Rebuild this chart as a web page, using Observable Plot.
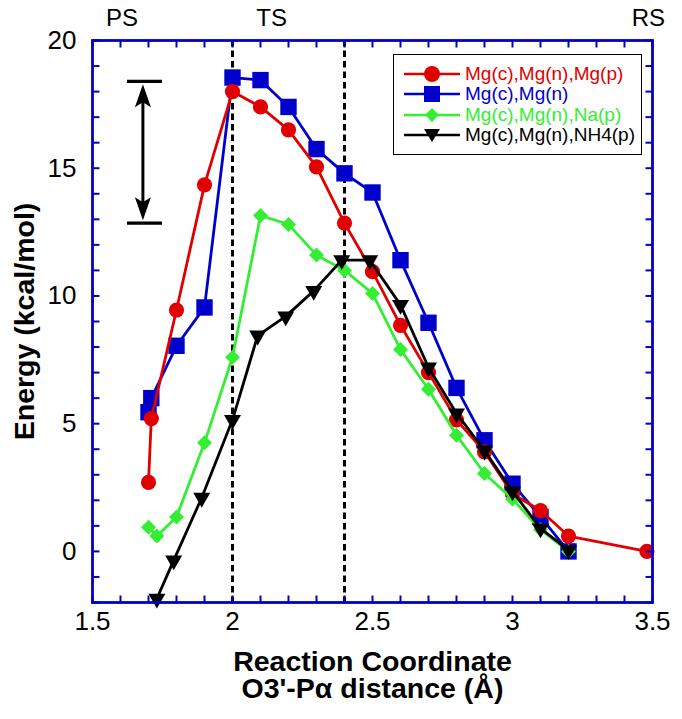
<!DOCTYPE html>
<html>
<head>
<meta charset="utf-8">
<script src="https://cdn.jsdelivr.net/npm/d3@7"></script>
<script src="https://cdn.jsdelivr.net/npm/@observablehq/plot@0.6"></script>
<style>
  body { margin: 0; background: #fff; }
  #wrap { position: relative; width: 682px; height: 719px; font-family: "Liberation Sans", Arial, sans-serif; }
  #legend { position: absolute; left: 393px; top: 54px; width: 249px; height: 101px; box-sizing: border-box;
            border: 1.5px solid #000; background: #fff; padding-top: 9px; }
  .row { display: flex; align-items: center; height: 20.3px; }
  .row svg { margin-left: 10px; margin-right: 5px; }
  .row span { font-size: 19px; line-height: 20px; white-space: nowrap; }
  .sub { font-size: 13px; }
</style>
</head>
<body>
<div id="wrap"></div>
<script>
// ---- data ----
const seriesNames = ["Mg(c),Mg(n),Mg(p)", "Mg(c),Mg(n)", "Mg(c),Mg(n),Na(p)", "Mg(c),Mg(n),NH4(p)"];
const seriesColors = ["#e00000", "#0000cc", "#33ee33", "#000000"];

const redX = [1.70, 1.71, 1.80, 1.90, 2.00, 2.10, 2.20, 2.30, 2.40, 2.50, 2.60, 2.70, 2.80, 2.90, 3.00, 3.10, 3.20, 3.48];
const redY = [2.7, 5.2, 9.45, 14.35, 18.0, 17.4, 16.5, 15.05, 12.85, 10.95, 8.85, 7.0, 5.15, 3.9, 2.25, 1.6, 0.6, 0.0];

const blueX = [1.70, 1.71, 1.80, 1.90, 2.00, 2.10, 2.20, 2.30, 2.40, 2.50, 2.60, 2.70, 2.80, 2.90, 3.00, 3.10, 3.20];
const blueY = [5.45, 6.0, 8.05, 9.55, 18.55, 18.45, 17.4, 15.75, 14.8, 14.05, 11.4, 8.95, 6.4, 4.35, 2.65, 1.35, 0.0];

const greenX = [1.70, 1.73, 1.80, 1.90, 2.00, 2.10, 2.20, 2.30, 2.40, 2.50, 2.60, 2.70, 2.80, 2.90, 3.00, 3.10, 3.20];
const greenY = [0.95, 0.6, 1.35, 4.25, 7.6, 13.15, 12.8, 11.6, 11.0, 10.1, 7.9, 6.35, 4.55, 3.05, 2.05, 0.85, 0.0];

const blackX = [1.73, 1.79, 1.89, 2.00, 2.09, 2.19, 2.29, 2.39, 2.49, 2.60, 2.70, 2.80, 2.90, 3.00, 3.10, 3.20];
const blackY = [-1.85, -0.35, 2.1, 5.15, 8.45, 9.2, 10.2, 11.4, 11.4, 9.65, 7.2, 5.4, 3.95, 2.35, 0.9, 0.05];

const xDomain = [1.5, 3.5];
const yDomain = [-2, 20];
const xTickLabels = [1.5, 2, 2.5, 3, 3.5];
const yTickLabels = [0, 5, 10, 15, 20];
const xMinorTicks = d3.range(15, 36).map(d => d / 10);
const yMinorTicks = d3.range(-2, 21);

const dashedX = [2.0, 2.4];             // transition-state guides
const stateLabels = ["PS", "TS", "RS"];
const stateX = [1.605, 2.14, 3.485];

const barrierX = [1.625, 1.75];         // cap extent of the barrier bracket
const barrierArrowX = 1.68;
const barrierY = [12.85, 18.4];         // lower / upper energy of the bracket

const xTitle = "Reaction Coordinate\nO3'-P\u03B1 distance (\u00C5)";
const yTitle = "Energy (kcal/mol)";

// ---- symbols ----
function symOf(fn) { return { draw(ctx, size) { fn(ctx, Math.sqrt(size / Math.PI)); } }; }
const symCircle = symOf((c, r) => { c.moveTo(r, 0); c.arc(0, 0, r, 0, 2 * Math.PI); });
const symSquare = symOf((c, r) => { c.rect(-r, -r, 2 * r, 2 * r); });
const symDiamond = symOf((c, r) => { c.moveTo(0, -r); c.lineTo(r, 0); c.lineTo(0, r); c.lineTo(-r, 0); c.closePath(); });
const symTriDown = symOf((c, r) => { const h = r * 1.75; c.moveTo(-r, -h / 3); c.lineTo(r, -h / 3); c.lineTo(0, 2 * h / 3); c.closePath(); });
// barbed arrowheads; tip sits a few px inside the cap
const headUp = { draw(c) { c.moveTo(0, 3); c.lineTo(8, 26); c.lineTo(0, 21); c.lineTo(-8, 26); c.closePath(); } };
const headDown = { draw(c) { c.moveTo(0, -3); c.lineTo(8, -26); c.lineTo(0, -21); c.lineTo(-8, -26); c.closePath(); } };
// inward tick marks (filled slivers anchored on the frame edge)
const TL = 7, TW = 2;
const tickUp = { draw(c) { c.moveTo(-TW / 2, 0); c.lineTo(TW / 2, 0); c.lineTo(TW / 2, -TL); c.lineTo(-TW / 2, -TL); c.closePath(); } };
const tickDown = { draw(c) { c.moveTo(-TW / 2, 0); c.lineTo(TW / 2, 0); c.lineTo(TW / 2, TL); c.lineTo(-TW / 2, TL); c.closePath(); } };
const tickRight = { draw(c) { c.moveTo(0, -TW / 2); c.lineTo(0, TW / 2); c.lineTo(TL, TW / 2); c.lineTo(TL, -TW / 2); c.closePath(); } };
const tickLeft = { draw(c) { c.moveTo(0, -TW / 2); c.lineTo(0, TW / 2); c.lineTo(-TL, TW / 2); c.lineTo(-TL, -TW / 2); c.closePath(); } };

const series = [
  { xs: blueX, ys: blueY, color: seriesColors[1], symbol: symSquare, r: 8.2 },
  { xs: redX, ys: redY, color: seriesColors[0], symbol: symCircle, r: 7.6 },
  { xs: greenX, ys: greenY, color: seriesColors[2], symbol: symDiamond, r: 7.5 },
  { xs: blackX, ys: blackY, color: seriesColors[3], symbol: symTriDown, r: 8.5 }
];

const marks = [];
marks.push(Plot.ruleX(dashedX, { stroke: "#000", strokeWidth: 3, strokeDasharray: "6.5,4" }));
for (const s of series) {
  const data = s.xs.map((x, i) => ({ x, y: s.ys[i] }));
  marks.push(Plot.line(data, { x: "x", y: "y", stroke: s.color, strokeWidth: 2.8 }));
  marks.push(Plot.dot(data, { x: "x", y: "y", fill: s.color, stroke: "none", symbol: s.symbol, r: s.r }));
}
// barrier bracket
marks.push(Plot.ruleY(barrierY, { x1: barrierX[0], x2: barrierX[1], stroke: "#000", strokeWidth: 3.2 }));
marks.push(Plot.ruleX([barrierArrowX], { y1: barrierY[1], y2: barrierY[0], stroke: "#000", strokeWidth: 3, insetTop: 14, insetBottom: 14 }));
marks.push(Plot.dot([barrierY[1]], { x: () => barrierArrowX, y: d => d, symbol: headUp, fill: "#000", stroke: "none", r: 5 }));
marks.push(Plot.dot([barrierY[0]], { x: () => barrierArrowX, y: d => d, symbol: headDown, fill: "#000", stroke: "none", r: 5 }));

// tick labels
marks.push(Plot.axisX(xTickLabels, { anchor: "bottom", tickSize: 0, tickPadding: 9, tickFormat: d => String(d), fontSize: 26, label: null }));
marks.push(Plot.axisY(yTickLabels, { anchor: "left", tickSize: 0, tickPadding: 16, tickFormat: d => String(d), fontSize: 26, label: null }));
marks.push(Plot.frame({ stroke: "#0000cc", strokeWidth: 2.8 }));
// inward minor ticks on all four sides, placed on the domain edges
const tk = { fill: "#0000cc", stroke: "none", r: 4 };
marks.push(Plot.dot(xMinorTicks, { x: d => d, y: () => yDomain[0], symbol: tickUp, ...tk }));
marks.push(Plot.dot(xMinorTicks, { x: d => d, y: () => yDomain[1], symbol: tickDown, ...tk }));
marks.push(Plot.dot(yMinorTicks, { x: () => xDomain[0], y: d => d, symbol: tickRight, ...tk }));
marks.push(Plot.dot(yMinorTicks, { x: () => xDomain[1], y: d => d, symbol: tickLeft, ...tk }));

// state labels above frame
marks.push(Plot.text(stateLabels, { x: (d, i) => stateX[i], text: d => d, frameAnchor: "top", lineAnchor: "middle", dy: -22, fontSize: 24 }));
// axis titles
marks.push(Plot.text([xTitle], { frameAnchor: "bottom", lineAnchor: "top", dy: 50, fontSize: 28.5, fontWeight: "bold", lineHeight: 0.93 }));
marks.push(Plot.text([yTitle], { frameAnchor: "left", textAnchor: "middle", rotate: -90, dx: -68, fontSize: 28.5, fontWeight: "bold" }));

const chart = Plot.plot({
  width: 682, height: 719,
  marginLeft: 92, marginRight: 30, marginTop: 40, marginBottom: 117,
  x: { domain: xDomain, axis: null },
  y: { domain: yDomain, axis: null },
  style: { fontFamily: "Liberation Sans, Arial, sans-serif", fontSize: "25px", color: "#000", background: "#fff", overflow: "visible" },
  marks
});
const wrap = document.getElementById("wrap");
wrap.appendChild(chart);

// legend (HTML overlay)
const legend = document.createElement("div");
legend.id = "legend";
const legendSyms = [
  `<circle cx="28" cy="10" r="8"/>`,
  `<rect x="20" y="2" width="16" height="16"/>`,
  `<path d="M28,3 L35,10 L28,17 L21,10 Z"/>`,
  `<path d="M20,4 L36,4 L28,17 Z"/>`
];
seriesNames.forEach((name, i) => {
  const row = document.createElement("div");
  row.className = "row";
  const c = seriesColors[i];
  const label = name.replace("NH4", 'NH<span class="sub">4</span>');
  row.innerHTML = `<svg width="56" height="20"><line x1="0" x2="56" y1="10" y2="10" stroke="${c}" stroke-width="2.5"/><g fill="${c}">${legendSyms[i]}</g></svg><span style="color:${c}">${label}</span>`;
  legend.appendChild(row);
});
wrap.appendChild(legend);
</script>
</body>
</html>
